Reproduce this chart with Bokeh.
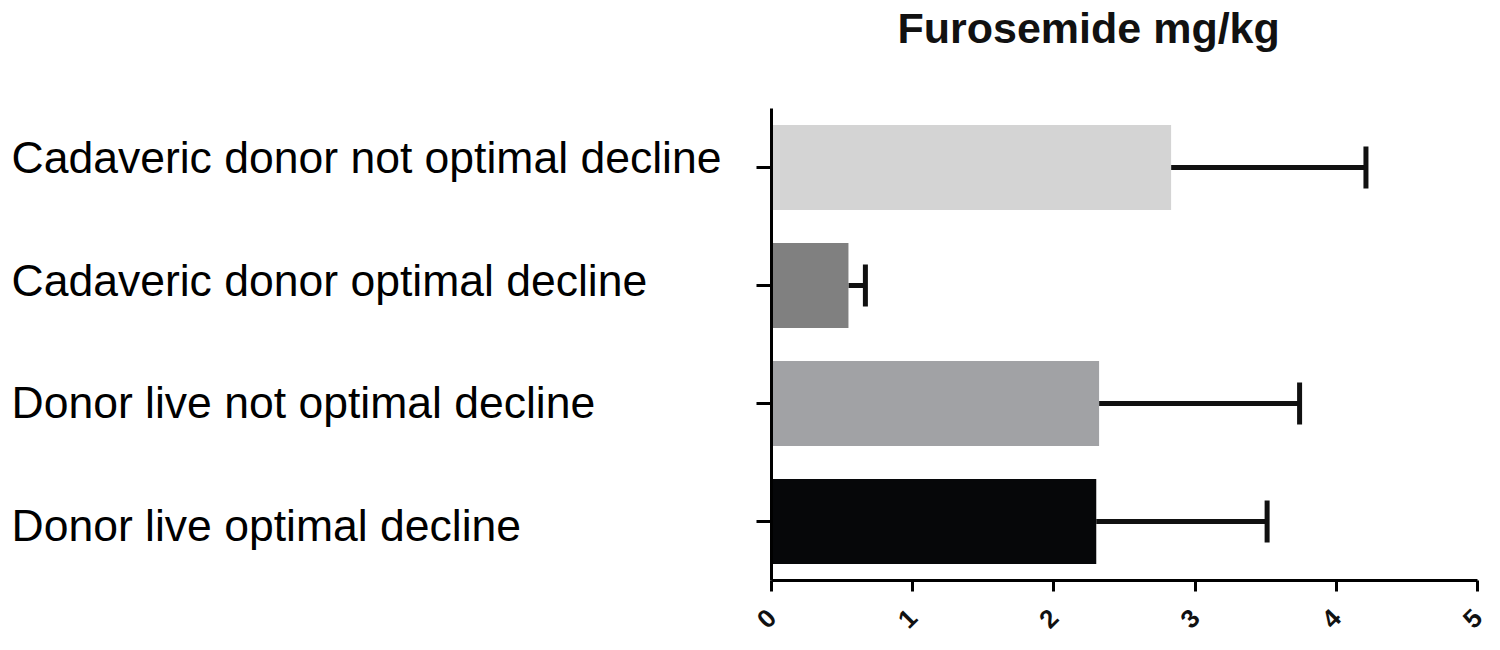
import math
from bokeh.plotting import figure
from bokeh.layouts import row
from bokeh.models import (ColumnDataSource, FactorRange, Range1d, Whisker, TeeHead,
                          FixedTicker, CustomLabelingPolicy, LinearAxis)
from bokeh.core.properties import value
from bokeh.embed import file_html
from bokeh.resources import INLINE

# Data (top to bottom as in the reference)
categories = [
    "Cadaveric donor not optimal decline",
    "Cadaveric donor optimal decline",
    "Donor live not optimal decline",
    "Donor live optimal decline",
]
means = [2.83, 0.545, 2.32, 2.30]
errors = [1.38, 0.12, 1.42, 1.21]
colors = ["#d4d4d4", "#808080", "#a1a2a5", "#060709"]
x_ticks = [0, 1, 2, 3, 4, 5]
title_text = "Furosemide mg/kg"

uppers = [m + e for m, e in zip(means, errors)]
zeros = [0 for _ in categories]

src = ColumnDataSource(dict(cat=categories, mean=means, upper=uppers,
                            color=colors, zero=zeros))

H = 642
TOP, BOTTOM = 108, 62
LEFT_W = 740
MAIN_W = 752

# left panel: category labels (left aligned), own category range (labels spaced a bit wider)
pl = figure(width=LEFT_W, height=H, output_backend="svg", toolbar_location=None,
            y_range=FactorRange(factors=categories[::-1], range_padding=-0.075,
                                range_padding_units="absolute"),
            x_range=Range1d(0, 1),
            x_axis_location=None, y_axis_location=None,
            min_border_left=0, min_border_right=0,
            min_border_top=TOP, min_border_bottom=BOTTOM)
pl.grid.visible = False
pl.outline_line_color = None
pl.text(x="zero", y="cat", text="cat", source=src, x_offset=11, y_offset=-3,
        text_align="left", text_baseline="middle",
        text_font=value("Liberation Sans"), text_font_size="44.5px",
        text_color="#000000")

# main panel
p = figure(width=MAIN_W, height=H, output_backend="svg", toolbar_location=None,
           y_range=FactorRange(factors=categories[::-1]), x_range=Range1d(0, 5),
           min_border_left=31, min_border_right=15,
           min_border_top=TOP, min_border_bottom=BOTTOM)

# invisible spacer axis above the frame, so the title sits high like the reference
spacer = LinearAxis(axis_line_alpha=0, major_tick_line_alpha=0, minor_tick_line_alpha=0,
                    major_tick_out=56, major_tick_in=0, minor_tick_out=0,
                    major_label_text_font_size="0px", major_label_standoff=0,
                    major_label_policy=CustomLabelingPolicy(code="return []"))
p.add_layout(spacer, "above")

p.title.text = title_text
p.title.text_font = "Liberation Sans"
p.title.text_font_size = "43px"
p.title.text_font_style = "bold"
p.title.align = "left"
p.title.offset = 126
p.title.standoff = 2
p.title.text_color = "#111111"

p.hbar(y="cat", left="zero", right="mean", height=0.72, fill_color="color",
       line_color=None, source=src)

wh = Whisker(base="cat", lower="mean", upper="upper", dimension="width",
             source=src, line_width=5, line_color="#111111",
             upper_head=TeeHead(size=42, line_width=5, line_color="#111111"),
             lower_head=None)
p.add_layout(wh)

p.xgrid.visible = False
p.ygrid.visible = False
p.outline_line_color = None

xa = p.below[0]
xa.ticker = FixedTicker(ticks=x_ticks)
xa.axis_line_width = 3
xa.major_tick_line_width = 3
xa.major_tick_out = 11
xa.major_tick_in = 0
xa.minor_tick_line_color = None
xa.major_label_orientation = math.pi / 4
xa.major_label_text_font = "Liberation Sans"
xa.major_label_text_font_style = "bold"
xa.major_label_text_font_size = "26px"
xa.major_label_text_color = "#111111"
xa.major_label_standoff = 22

p.yaxis.axis_line_width = 3
p.yaxis.major_tick_line_width = 3
p.yaxis.major_tick_out = 15
p.yaxis.major_tick_in = 0
p.yaxis.major_label_text_font_size = "0px"
p.yaxis.major_label_standoff = 0
p.yaxis.major_label_policy = CustomLabelingPolicy(code="return []")

layout = row(pl, p)
open("out.html", "w").write(file_html(layout, INLINE))
